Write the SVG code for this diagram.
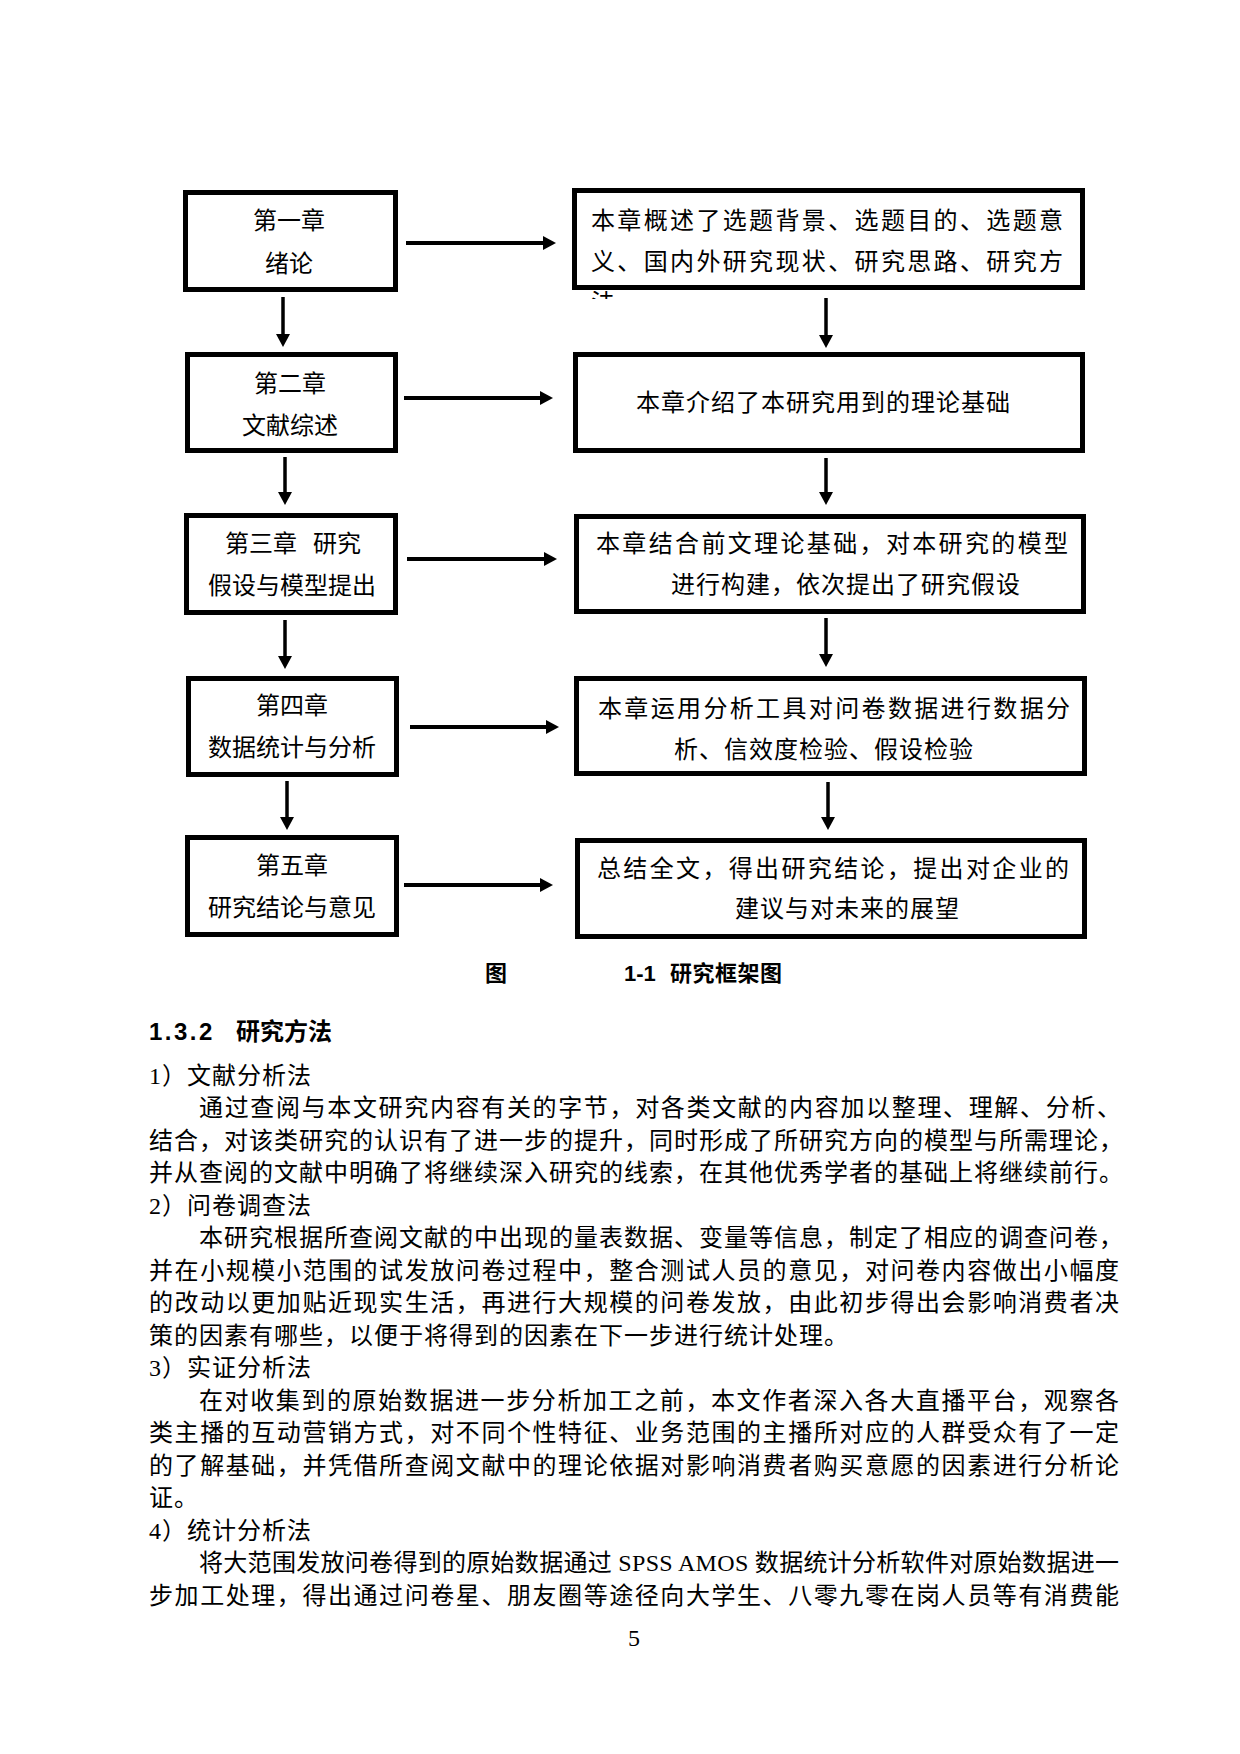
<svg xmlns="http://www.w3.org/2000/svg" width="1240" height="1754" viewBox="0 0 1240 1754">
<style>
.bg{fill:#ffffff}
.box{fill:#ffffff;stroke:#000000;stroke-width:5}
.t{font-family:"Liberation Serif","Noto Sans CJK SC",serif;font-size:24px;fill:#000000}
.c{text-anchor:middle}
.ls{letter-spacing:1px}
.h{font-family:"Liberation Sans","Noto Sans CJK SC",sans-serif;font-weight:bold;fill:#000000}
.ah{stroke:#000000;stroke-width:4;fill:none}
.av{stroke:#000000;stroke-width:3.5;fill:none}
</style>
<defs>
<marker id="arr" markerUnits="userSpaceOnUse" markerWidth="14" markerHeight="14" viewBox="0 0 14 14" refX="3" refY="7" orient="auto">
<path d="M0,0 L13,7 L0,14 z" fill="#000000"/>
</marker>
<clipPath id="clipFa"><rect x="580" y="291" width="60" height="8"/></clipPath>
</defs>
<rect class="bg" x="0" y="0" width="1240" height="1754"/>

<g id="node-ch1">
<rect class="box" x="185.5" y="192.5" width="210" height="97"/>
<text class="t c" x="289" y="229">第一章</text>
<text class="t c" x="289" y="272">绪论</text>
</g>
<g id="node-ch2">
<rect class="box" x="187.5" y="354.5" width="208" height="96"/>
<text class="t c" x="290" y="392">第二章</text>
<text class="t c" x="290" y="434">文献综述</text>
</g>
<g id="node-ch3">
<rect class="box" x="186.5" y="515.5" width="209" height="97"/>
<text class="t" x="225" y="552">第三章<tspan x="313">研究</tspan></text>
<text class="t c" x="292" y="594">假设与模型提出</text>
</g>
<g id="node-ch4">
<rect class="box" x="188.5" y="678.5" width="208" height="96"/>
<text class="t c" x="292" y="714">第四章</text>
<text class="t c" x="292" y="756">数据统计与分析</text>
</g>
<g id="node-ch5">
<rect class="box" x="187.5" y="837.5" width="209" height="97"/>
<text class="t c" x="292" y="874">第五章</text>
<text class="t c" x="292" y="916">研究结论与意见</text>
</g>

<g id="node-d1">
<rect class="box" x="574.5" y="190.5" width="508" height="97"/>
<text class="t" x="591" y="229" textLength="472" lengthAdjust="spacing">本章概述了选题背景、选题目的、选题意</text>
<text class="t" x="591" y="270" textLength="472" lengthAdjust="spacing">义、国内外研究现状、研究思路、研究方</text>
<text class="t" x="591" y="311" clip-path="url(#clipFa)">法</text>
</g>
<g id="node-d2">
<rect class="box" x="575.5" y="354.5" width="507" height="96"/>
<text class="t ls" x="636" y="411">本章介绍了本研究用到的理论基础</text>
</g>
<g id="node-d3">
<rect class="box" x="576.5" y="516.5" width="507" height="95"/>
<text class="t" x="596" y="552" textLength="472" lengthAdjust="spacing">本章结合前文理论基础，对本研究的模型</text>
<text class="t ls" x="671" y="593">进行构建，依次提出了研究假设</text>
</g>
<g id="node-d4">
<rect class="box" x="576.5" y="678.5" width="508" height="95"/>
<text class="t" x="598" y="717" textLength="472" lengthAdjust="spacing">本章运用分析工具对问卷数据进行数据分</text>
<text class="t ls" x="674" y="758">析、信效度检验、假设检验</text>
</g>
<g id="node-d5">
<rect class="box" x="577.5" y="840.5" width="507" height="96"/>
<text class="t" x="597" y="877" textLength="472" lengthAdjust="spacing">总结全文，得出研究结论，提出对企业的</text>
<text class="t ls" x="735" y="917">建议与对未来的展望</text>
</g>

<g id="connectors">
<line class="ah" x1="406" y1="243" x2="546" y2="243" marker-end="url(#arr)"/>
<line class="ah" x1="404" y1="398" x2="543" y2="398" marker-end="url(#arr)"/>
<line class="ah" x1="407" y1="559" x2="547" y2="559" marker-end="url(#arr)"/>
<line class="ah" x1="410" y1="727" x2="549" y2="727" marker-end="url(#arr)"/>
<line class="ah" x1="404" y1="885" x2="543" y2="885" marker-end="url(#arr)"/>
<line class="av" x1="283" y1="297" x2="283" y2="337" marker-end="url(#arr)"/>
<line class="av" x1="285" y1="457" x2="285" y2="495" marker-end="url(#arr)"/>
<line class="av" x1="285" y1="620" x2="285" y2="659" marker-end="url(#arr)"/>
<line class="av" x1="287" y1="781" x2="287" y2="820" marker-end="url(#arr)"/>
<line class="av" x1="826" y1="298" x2="826" y2="338" marker-end="url(#arr)"/>
<line class="av" x1="826" y1="458" x2="826" y2="495" marker-end="url(#arr)"/>
<line class="av" x1="826" y1="618" x2="826" y2="657" marker-end="url(#arr)"/>
<line class="av" x1="828" y1="782" x2="828" y2="820" marker-end="url(#arr)"/>
</g>

<g id="caption">
<text class="h" x="485" y="981" font-size="22">图</text>
<text class="h" x="624" y="981" font-size="22">1-1<tspan x="670" letter-spacing="0.5">研究框架图</tspan></text>
</g>

<g id="body">
<text class="h" x="149" y="1040" font-size="24"><tspan letter-spacing="2.5">1.3.2</tspan><tspan x="236">研究方法</tspan></text>
<text class="t ls" x="149" y="1084">1）文献分析法</text>
<text class="t" x="199" y="1116" textLength="922" lengthAdjust="spacing">通过查阅与本文研究内容有关的字节，对各类文献的内容加以整理、理解、分析、</text>
<text class="t" x="149" y="1149" textLength="974" lengthAdjust="spacing">结合，对该类研究的认识有了进一步的提升，同时形成了所研究方向的模型与所需理论，</text>
<text class="t" x="149" y="1181" textLength="974" lengthAdjust="spacing">并从查阅的文献中明确了将继续深入研究的线索，在其他优秀学者的基础上将继续前行。</text>
<text class="t ls" x="149" y="1214">2）问卷调查法</text>
<text class="t" x="199" y="1246" textLength="924" lengthAdjust="spacing">本研究根据所查阅文献的中出现的量表数据、变量等信息，制定了相应的调查问卷，</text>
<text class="t" x="149" y="1279" textLength="970" lengthAdjust="spacing">并在小规模小范围的试发放问卷过程中，整合测试人员的意见，对问卷内容做出小幅度</text>
<text class="t" x="149" y="1311" textLength="970" lengthAdjust="spacing">的改动以更加贴近现实生活，再进行大规模的问卷发放，由此初步得出会影响消费者决</text>
<text class="t ls" x="149" y="1344">策的因素有哪些，以便于将得到的因素在下一步进行统计处理。</text>
<text class="t ls" x="149" y="1376">3）实证分析法</text>
<text class="t" x="199" y="1409" textLength="920" lengthAdjust="spacing">在对收集到的原始数据进一步分析加工之前，本文作者深入各大直播平台，观察各</text>
<text class="t" x="149" y="1441" textLength="970" lengthAdjust="spacing">类主播的互动营销方式，对不同个性特征、业务范围的主播所对应的人群受众有了一定</text>
<text class="t" x="149" y="1474" textLength="970" lengthAdjust="spacing">的了解基础，并凭借所查阅文献中的理论依据对影响消费者购买意愿的因素进行分析论</text>
<text class="t ls" x="149" y="1506">证。</text>
<text class="t ls" x="149" y="1539">4）统计分析法</text>
<text class="t" x="199" y="1571" textLength="920" lengthAdjust="spacing">将大范围发放问卷得到的原始数据通过 SPSS AMOS 数据统计分析软件对原始数据进一</text>
<text class="t" x="149" y="1604" textLength="970" lengthAdjust="spacing">步加工处理，得出通过问卷星、朋友圈等途径向大学生、八零九零在岗人员等有消费能</text>
<text class="t c" x="634" y="1646" font-size="22">5</text>
</g>
</svg>
